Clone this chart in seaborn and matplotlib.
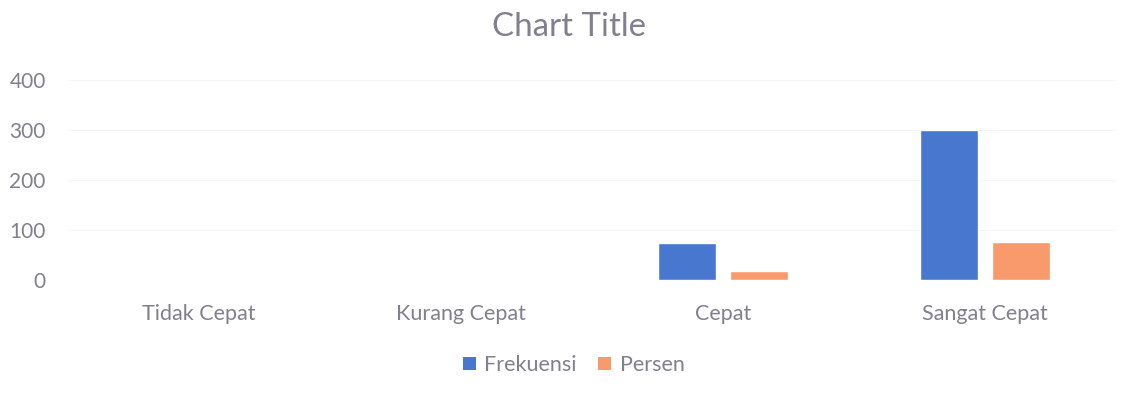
import matplotlib
matplotlib.use("Agg")
import matplotlib.pyplot as plt
import seaborn as sns
import pandas as pd
from matplotlib.patches import Patch

categories = ["Tidak Cepat", "Kurang Cepat", "Cepat", "Sangat Cepat"]
frekuensi = [0, 0, 75, 300]
persen = [0, 0, 19, 77]
series_names = ["Frekuensi", "Persen"]
yticks = [0, 100, 200, 300, 400]

df = pd.DataFrame({
    "Kategori": categories * 2,
    "Nilai": frekuensi + persen,
    "Seri": [series_names[0]] * len(categories) + [series_names[1]] * len(categories),
})

sns.set_theme(style="white")
plt.rcParams["font.family"] = ["Lato", "DejaVu Sans"]

text_color = "#80808f"
colors = {"Frekuensi": "#4877cf", "Persen": "#f99a6c"}

fig = plt.figure(figsize=(11.22, 4.03), dpi=100)
ax = fig.add_axes([68 / 1122, 1 - 280 / 403, 1048 / 1122, 200 / 403])

sns.barplot(data=df, x="Kategori", y="Nilai", hue="Seri", palette=colors,
            width=0.557, gap=0.205, ax=ax, legend=False, saturation=1)

ax.set_ylim(0, 400)
ax.set_xlim(-0.5, 3.5)
ax.set_yticks(yticks)
ax.set_yticklabels([str(v) for v in yticks])
ax.set_xlabel("")
ax.set_ylabel("")
for s in ax.spines.values():
    s.set_visible(False)
ax.grid(axis="y", color="#f5f5f5", linewidth=0.8)
ax.set_axisbelow(True)
ax.tick_params(axis="y", length=0, pad=16, labelsize=15, labelcolor=text_color)
ax.tick_params(axis="x", length=0, pad=17, labelsize=15.5, labelcolor=text_color)

fig.text(0.507, 1 - 27 / 403, "Chart Title", ha="center", va="center",
         fontsize=23.8, color=text_color)

handles = [Patch(facecolor=colors[n], edgecolor="none") for n in series_names]
fig.legend(handles, series_names, loc="center", bbox_to_anchor=(0.5115, 1 - 365 / 403),
           ncol=2, frameon=False, fontsize=15.5, labelcolor=text_color,
           handlelength=0.6, handleheight=0.6, handletextpad=0.4, columnspacing=1.0)

fig.savefig("out.png", dpi=100, facecolor="white")
